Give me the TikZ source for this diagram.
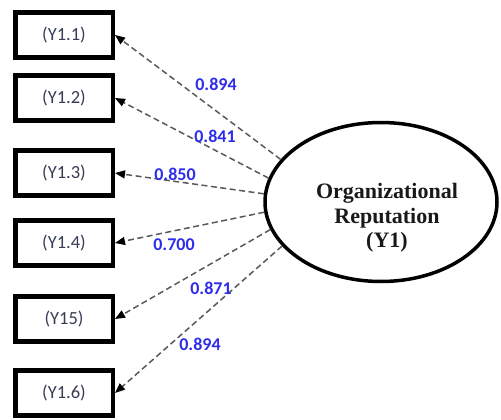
\documentclass[tikz,border=0pt]{standalone}
\usepackage{fontspec}
\setmainfont{Carlito}
\newfontfamily\lvfont{Liberation Serif}
\usetikzlibrary{arrows.meta,shapes.geometric}
\definecolor{loadblue}{RGB}{45,45,235}
\definecolor{indtext}{RGB}{55,60,85}

\begin{document}
\begin{tikzpicture}[x=1pt,y=-1pt,
  ind/.style={draw,line width=4.5pt,minimum width=97.5pt,minimum height=45pt,font=\fontsize{18.5}{20}\selectfont,text=indtext},
  lv/.style={draw,ellipse,line width=3.5pt,minimum width=232pt,minimum height=159pt},
  load/.style={font=\fontsize{18}{20}\selectfont\bfseries,text=loadblue,inner sep=0pt},
  arr/.style={-{Triangle[length=10pt,width=8pt,black]},dash pattern=on 6pt off 3.5pt,line width=1.5pt,black!65}
]
\useasboundingbox (0,0) rectangle (501,420);

% indicators (left column)
\node[ind] (y11) at (64,35)  {(Y1.1)};
\node[ind] (y12) at (64,98)  {(Y1.2)};
\node[ind] (y13) at (64,173) {(Y1.3)};
\node[ind] (y14) at (64,243) {(Y1.4)};
\node[ind] (y15) at (64,319) {(Y15)};
\node[ind] (y16) at (64,393) {(Y1.6)};

% latent variable
\node[lv] (rep) at (381,202) {};
\node[align=center,font=\lvfont\bfseries\fontsize{22}{24.5}\selectfont,text=black!90] (reptxt) at (387,218)
  {Organizational\\Reputation\\(Y1)};

% loadings
\draw[arr] (rep.157) -- (y11.east);
\draw[arr] (rep.168) -- (y12.east);
\draw[arr] (rep.176) -- (y13.east);
\draw[arr] (rep.185) -- (y14.east);
\draw[arr] (rep.194) -- (y15.east);
\draw[arr] (rep.204) -- (y16.east);

\node[load] (l1) at (216,84)  {0.894};
\node[load] (l2) at (215,136) {0.841};
\node[load] (l3) at (175,174) {0.850};
\node[load] (l4) at (174,245) {0.700};
\node[load] (l5) at (211,288) {0.871};
\node[load] (l6) at (200,344) {0.894};
\end{tikzpicture}
\end{document}
